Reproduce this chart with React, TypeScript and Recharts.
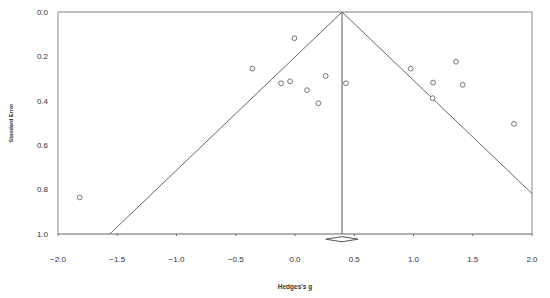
import React from 'react';
import { ScatterChart, Scatter, XAxis, YAxis, ReferenceLine } from 'recharts';

const studyG = [-0.005, -0.36, -0.118, -0.042, 0.259, 0.101, 0.197, 0.43, 0.976, 1.359, 1.165, 1.415, 1.162, 1.848, -1.817];
const studySE = [0.118, 0.255, 0.321, 0.312, 0.288, 0.352, 0.411, 0.321, 0.255, 0.224, 0.318, 0.328, 0.388, 0.504, 0.835];
const pooledG = 0.397;
const pooledLo = 0.259;
const pooledHi = 0.532;
const funnelLeftEnd = { g: -1.563, se: 1.0 };
const funnelRightEnd = { g: 2.0, se: 0.818 };
const diamondSE = [1.012, 1.0235, 1.035];
const xTicks = [-2.0, -1.5, -1.0, -0.5, 0.0, 0.5, 1.0, 1.5, 2.0];
const yTicks = [0.0, 0.2, 0.4, 0.6, 0.8, 1.0];

const points = studyG.map((g, i) => ({ g, se: studySE[i] }));

const fmt = (v: number) => v.toFixed(1).replace('-', '\u2212');

const Dot = (props: any) => (
  <circle cx={props.cx} cy={props.cy} r={2.4} fill="#fff" stroke="#666" strokeWidth={0.9} />
);

export default function App() {
  const tickStyle = { fontSize: 8, fill: '#333', fontFamily: 'Liberation Sans, Arial, sans-serif' };
  return (
    <div style={{ position: 'absolute', left: 0, top: 0, background: '#fff' }}>
      <ScatterChart width={550} height={298} margin={{ top: 12, right: 18, left: 0, bottom: 0 }}>
        <XAxis
          type="number"
          dataKey="g"
          domain={[-2, 2]}
          ticks={xTicks}
          tickFormatter={fmt}
          height={64}
          stroke="#666"
          tickSize={2}
          tickMargin={20}
          tick={tickStyle}
          allowDataOverflow
          label={{ value: "Hedges's g", position: 'insideBottom', offset: 9, style: { fontSize: 6.5, fontWeight: 'bold', fill: '#333', fontFamily: 'Liberation Sans, Arial, sans-serif' } }}
        />
        <YAxis
          type="number"
          dataKey="se"
          reversed
          domain={[0, 1]}
          ticks={yTicks}
          tickFormatter={(v: number) => v.toFixed(1)}
          width={58}
          stroke="#888"
          tickLine={false}
          tickMargin={4}
          tick={tickStyle}
          allowDataOverflow
          label={{ value: 'Standard Error', angle: -90, position: 'insideLeft', offset: 11, style: { fontSize: 5.5, fontWeight: 'bold', fill: '#333', textAnchor: 'middle', fontFamily: 'Liberation Sans, Arial, sans-serif' } }}
        />
        <ReferenceLine y={0} stroke="#aaa" strokeWidth={1.5} />
        <ReferenceLine x={2} stroke="#999" strokeWidth={1.2} />
        <ReferenceLine segment={[{ x: pooledG, y: 0 }, { x: pooledG, y: 1 }]} stroke="#555" />
        <ReferenceLine segment={[{ x: pooledG, y: 0 }, { x: funnelLeftEnd.g, y: funnelLeftEnd.se }]} stroke="#666" />
        <ReferenceLine segment={[{ x: pooledG, y: 0 }, { x: funnelRightEnd.g, y: funnelRightEnd.se }]} stroke="#666" />
        <ReferenceLine ifOverflow="visible" segment={[{ x: pooledLo, y: diamondSE[1] }, { x: pooledG, y: diamondSE[0] }]} stroke="#555" />
        <ReferenceLine ifOverflow="visible" segment={[{ x: pooledG, y: diamondSE[0] }, { x: pooledHi, y: diamondSE[1] }]} stroke="#555" />
        <ReferenceLine ifOverflow="visible" segment={[{ x: pooledHi, y: diamondSE[1] }, { x: pooledG, y: diamondSE[2] }]} stroke="#555" />
        <ReferenceLine ifOverflow="visible" segment={[{ x: pooledG, y: diamondSE[2] }, { x: pooledLo, y: diamondSE[1] }]} stroke="#555" />
        <Scatter data={points} shape={Dot} isAnimationActive={false} />
      </ScatterChart>
    </div>
  );
}
